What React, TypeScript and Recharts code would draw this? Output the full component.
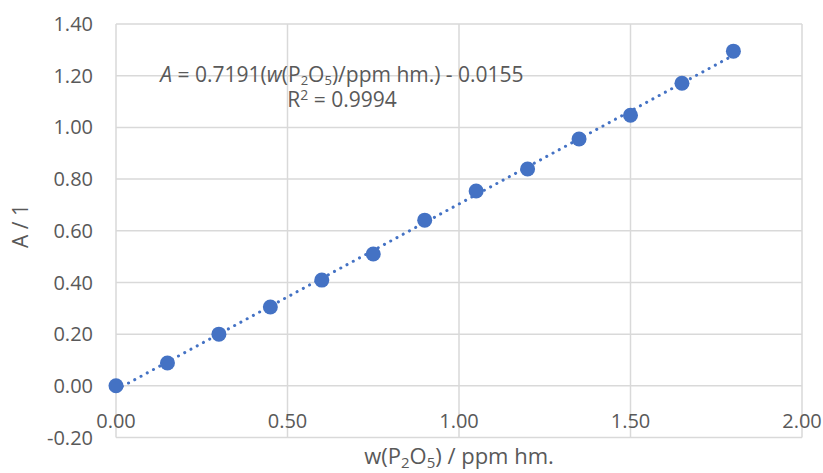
import { ScatterChart, Scatter, XAxis, YAxis, CartesianGrid } from "recharts";

const concentrations = [0, 0.15, 0.3, 0.45, 0.6, 0.75, 0.9, 1.05, 1.2, 1.35, 1.5, 1.65, 1.8];
const absorbances = [0.0, 0.088, 0.2, 0.305, 0.409, 0.51, 0.641, 0.754, 0.839, 0.955, 1.047, 1.171, 1.295];
// trendline end points, from A = 0.7191 w - 0.0155
const trendX = [0, 1.8];
const trendY = [-0.0155, 1.2789];
const xTicks = [0, 0.5, 1, 1.5, 2];
const yTicks = [-0.2, 0, 0.2, 0.4, 0.6, 0.8, 1.0, 1.2, 1.4];

const points = concentrations.map((x, i) => ({ x, y: absorbances[i] }));
const trend = trendX.map((x, i) => ({ x, y: trendY[i] }));

const BLUE = "#4472C4";
const GREY = "#595959";
const FONT = "'Open Sans', sans-serif";

const XTick = (props: any) => {
  const { x, y, payload } = props;
  return (
    <text x={x} y={y - 18} textAnchor="middle" fill={GREY} fontSize={20} fontFamily={FONT}>
      {payload.value.toFixed(2)}
    </text>
  );
};

const XTitle = (props: any) => {
  const { viewBox } = props;
  const cx = viewBox.x + viewBox.width / 2;
  return (
    <text x={cx} y={464} textAnchor="middle" fill={GREY} fontSize={22} fontFamily={FONT}>
      w(P
      <tspan fontSize={15} dy={4}>2</tspan>
      <tspan dy={-4}>O</tspan>
      <tspan fontSize={15} dy={4}>5</tspan>
      <tspan dy={-4}>) / ppm hm.</tspan>
    </text>
  );
};

const YTitle = () => (
  <text
    x={28}
    y={226}
    transform="rotate(-90 28 226)"
    textAnchor="middle"
    fill={GREY}
    fontSize={21}
    fontFamily={FONT}
  >
    A / 1
  </text>
);

export default function App() {
  return (
    <div style={{ position: "absolute", left: 0, top: 0, width: 823, height: 473, background: "#fff" }}>
      <ScatterChart width={823} height={473} margin={{ top: 24, right: 21, left: 0, bottom: 0 }}>
        <CartesianGrid stroke="#d9d9d9" strokeWidth={1.5} />
        <XAxis
          type="number"
          dataKey="x"
          domain={[0, 2]}
          ticks={xTicks}
          height={35.5}
          axisLine={false}
          tickLine={false}
          tick={<XTick />}
          label={<XTitle />}
        />
        <YAxis
          type="number"
          dataKey="y"
          domain={[-0.2, 1.4]}
          ticks={yTicks}
          width={116}
          axisLine={false}
          tickLine={false}
          tickSize={0}
          tickMargin={23}
          tickFormatter={(v: number) => v.toFixed(2)}
          tick={{ fill: GREY, fontSize: 20, fontFamily: FONT }}
          label={<YTitle />}
        />
        <Scatter
          data={trend}
          isAnimationActive={false}
          line={{ stroke: BLUE, strokeWidth: 3, strokeDasharray: "0.1 7", strokeLinecap: "round" }}
          shape={() => <g />}
        />
        <Scatter
          data={points}
          isAnimationActive={false}
          fill={BLUE}
          shape={(p: any) => <circle cx={p.cx} cy={p.cy} r={7.5} fill={BLUE} />}
        />
      </ScatterChart>
      <svg
        width={823}
        height={473}
        style={{ position: "absolute", left: 0, top: 0, pointerEvents: "none" }}
      >
        <text x={342} y={82} textAnchor="middle" fill={GREY} fontSize={21} fontFamily={FONT}>
          <tspan fontStyle="italic">A</tspan> = 0.7191(<tspan fontStyle="italic">w</tspan>(P
          <tspan fontSize={13} dy={3}>2</tspan>
          <tspan dy={-3}>O</tspan>
          <tspan fontSize={13} dy={3}>5</tspan>
          <tspan dy={-3}>)/ppm hm.) - 0.0155</tspan>
        </text>
        <text x={342} y={107} textAnchor="middle" fill={GREY} fontSize={21} fontFamily={FONT}>
          R<tspan fontSize={14} dy={-7}>2</tspan>
          <tspan dy={7}> = 0.9994</tspan>
        </text>
      </svg>
    </div>
  );
}
